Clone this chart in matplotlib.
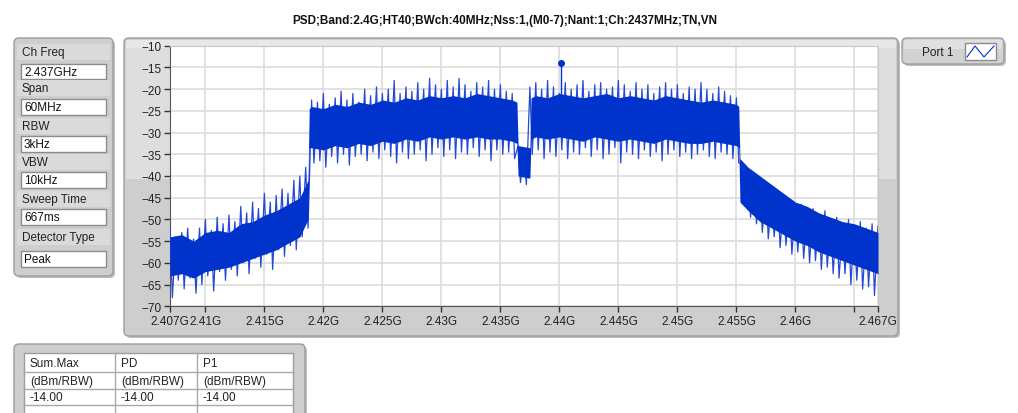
import numpy as np
import matplotlib.pyplot as plt
from matplotlib.patches import FancyBboxPatch, Rectangle

plt.rcParams['font.family'] = ['Liberation Sans', 'DejaVu Sans']

# ---- data ----
title = "PSD;Band:2.4G;HT40;BWch:40MHz;Nss:1,(M0-7);Nant:1;Ch:2437MHz;TN,VN"

setting_names = ["Ch Freq", "Span", "RBW", "VBW", "Sweep Time", "Detector Type"]
setting_values = ["2.437GHz", "60MHz", "3kHz", "10kHz", "667ms", "Peak"]

table_cols = ["Sum.Max", "PD", "P1"]
table_units = ["(dBm/RBW)", "(dBm/RBW)", "(dBm/RBW)"]
table_vals = ["-14.00", "-14.00", "-14.00"]

# dense part of the trace (MHz, dBm)
core_f = ([2407, 2408, 2409, 2410, 2411, 2412, 2413, 2414, 2415, 2416, 2417, 2418, 2418.7, 2418.8]
          + list(range(2419, 2437)) + [2436.4, 2436.5, 2437.5, 2437.6]
          + list(range(2438, 2456)) + [2455.2, 2455.3] + list(range(2456, 2468)))
core_hi = [-54, -53.5, -55, -53, -52.5, -53, -51, -50.5, -49, -48, -46.5, -45, -41, -24.5,
           -24, -24.5, -23.5, -24, -23, -23.5, -22.5, -23, -22, -22.5, -21.5, -22, -21.5, -22,
           -21, -21.5, -22, -22.5,
           -23, -33, -33.5, -22,
           -21.5, -22, -21, -21.5, -22, -21.5, -21, -22, -21.5, -22, -22.5, -21.5, -22, -22.5,
           -23, -22.5, -23, -23.5,
           -24, -36,
           -38, -40, -42, -44, -46, -47, -48.5, -49.5, -50.5, -51, -52, -53]
core_lo = [-63, -62.5, -63.5, -62, -61.5, -61, -60, -59, -58, -57, -55.5, -54, -50, -33.5,
           -33.5, -34, -33, -33.5, -32.5, -33, -32, -32.5, -31.5, -32, -31, -31.5, -31, -31.5,
           -31, -31.5, -31.5, -32,
           -32.5, -40, -40.5, -31.5,
           -31, -31.5, -31, -31.5, -32, -31, -31.5, -32, -31.5, -32, -32.5, -31.5, -32, -32.5,
           -32.5, -32, -32.5, -33,
           -33.5, -46,
           -48, -50.5, -52, -53.5, -55, -56, -57.5, -58.5, -59.5, -60.5, -61.5, -62.5]

# spike extremes every 0.5 MHz from 2407 to 2467
spike_f = np.arange(2407, 2467.01, 0.5)
spike_top = [-51.5, -54, -53, -52, -54.5, -52, -50, -52.5, -49.5, -51, -49, -50.5,
             -47, -48.5, -46, -47.5, -44, -46, -44.5, -43, -44, -41, -40, -38,
             -22.5, -23, -21, -23.5, -22, -20.5, -22.5, -21, -23, -20, -21.5, -19.5,
             -21, -20, -18, -21, -19.5, -20.5, -18.5, -20, -17.5, -19, -20, -18,
             -19.5, -17.5, -19, -20.5, -18.5, -19.5, -18, -20, -19, -20.5, -21,
             -33, -34,
             -19.5, -18.5, -20, -18, -19.5, -21, -18.5, -20, -19, -18, -20.5, -19,
             -18.5, -20, -19.5, -18, -19, -20.5, -18.5, -20, -19, -21, -19.5, -18.5,
             -20, -19, -21, -19.5, -20, -18.5, -20, -21, -19.5, -20.5, -21.5, -22,
             -37, -39, -41, -42.5, -42, -44.5, -44, -46, -45.5, -47, -46.5, -48.5,
             -47.5, -49, -48, -50, -49.5, -51, -50, -51.5, -50.5, -52, -51, -51.5]
spike_bot = [-68, -64, -66, -63.5, -67, -65, -63, -66.5, -62, -64, -61.5, -63,
             -60, -62.5, -59, -61, -58, -61.5, -57, -58.5, -56, -57, -54, -52,
             -37, -36.5, -38, -35.5, -37, -35, -37.5, -35.5, -35, -36.5, -34.5, -36,
             -34, -35.5, -37, -34.5, -36, -35, -34, -36.5, -35, -33.5, -35.5, -34,
             -36, -34.5, -35, -33.5, -35.5, -34, -36.5, -34, -35, -34.5, -36,
             -41.5, -42,
             -35, -34, -36, -34.5, -35.5, -34, -36, -34.5, -35, -33.5, -35.5, -34,
             -36, -35, -33.5, -37, -34.5, -35, -36, -34, -35.5, -34.5, -36.5, -35,
             -34, -35.5, -34.5, -36, -35, -34, -35.5, -36, -34.5, -35, -36, -37,
             -46, -49.5, -51, -53, -54.5, -54, -56.5, -56, -58, -57.5, -59, -60,
             -59.5, -61.5, -61, -62.5, -63.5, -62.5, -65, -64, -66, -65.5, -67.5, -68]

peak_f, peak_v = 2440.1, -14.0

xticks = [2407, 2410, 2415, 2420, 2425, 2430, 2435, 2440, 2445, 2450, 2455, 2460, 2465, 2467]
xlabels = ["2.407G", "2.41G", "2.415G", "2.42G", "2.425G", "2.43G", "2.435G", "2.44G",
           "2.445G", "2.45G", "2.455G", "2.46G", "", "2.467G"]
yticks = list(range(-70, -9, 5))

BLUE = '#0033CC'
W, H = 1018, 414

fig = plt.figure(figsize=(W / 100, H / 100), dpi=100)
fig.patch.set_facecolor('white')

# background axes in pixel coordinates for the panels
bg = fig.add_axes([0, 0, 1, 1])
bg.set_xlim(0, W)
bg.set_ylim(H, 0)
bg.axis('off')


def panel(x0, y0, x1, y1, fc='#D4D4D4', r=5):
    bg.add_patch(FancyBboxPatch((x0 + 2, y0 + 2), x1 - x0, y1 - y0,
                                boxstyle=f"round,pad=0,rounding_size={r}",
                                fc='#BDBDBD', ec='none'))
    bg.add_patch(FancyBboxPatch((x0, y0), x1 - x0, y1 - y0,
                                boxstyle=f"round,pad=0,rounding_size={r}",
                                fc=fc, ec='#9C9C9C', lw=1))


def box(x0, y0, x1, y1, fc='white', ec='#8C8C8C'):
    bg.add_patch(Rectangle((x0, y0), x1 - x0, y1 - y0, fc=fc, ec=ec, lw=1))


# graph frame, lighter in the top part
panel(124, 39, 898, 337, fc='#CECECE')
bg.add_patch(Rectangle((126, 41), 770, 139, fc='#DEDEDE', ec='none'))
bg.add_patch(Rectangle((126, 41), 770, 8, fc='#E8E8E8', ec='none'))

# settings panel on the left
panel(14, 39, 113, 277, fc='#CECECE')
label_y = [53, 89, 127, 163, 200, 238]
box_y = [(65, 80), (100, 116), (137, 153), (173, 189), (210, 226), (252, 268)]
for name, val, ly, (b0, b1) in zip(setting_names, setting_values, label_y, box_y):
    bg.add_patch(Rectangle((17, ly - 8), 93, 16, fc='#DADADA', ec='none'))
    bg.text(22, ly, name, fontsize=8.5, va='center', ha='left', color='#222222')
    box(21, b0, 106, b1)
    bg.text(24, (b0 + b1) / 2, val, fontsize=8.5, va='center', ha='left', color='#111111')

# legend
panel(902, 39, 1004, 65, fc='#D2D2D2')
bg.add_patch(Rectangle((904, 41), 98, 9, fc='#E0E0E0', ec='none'))
bg.text(922, 53, "Port 1", fontsize=8.5, va='center', ha='left', color='#222222')
box(965, 44, 996, 61)
bg.plot([967, 975, 984, 994], [58, 47, 58, 47], color=BLUE, lw=0.8)

# result table at the bottom
panel(14, 345, 305, 430, fc='#CECECE')
box(24, 354, 293, 430, fc='white', ec='#9C9C9C')
for yy in [373, 390, 406]:
    bg.plot([24, 293], [yy, yy], color='#A8A8A8', lw=1)
col_x = [24, 115, 197]
for xx in col_x[1:]:
    bg.plot([xx, xx], [354, 414], color='#A8A8A8', lw=1)
for cx, c, u, v in zip(col_x, table_cols, table_units, table_vals):
    bg.text(cx + 6, 364, c, fontsize=8.5, va='center', color='#222222')
    bg.text(cx + 6, 382, u, fontsize=8.5, va='center', color='#222222')
    bg.text(cx + 6, 398, v, fontsize=8.5, va='center', color='#222222')

# title
bg.text(505, 21, title, fontsize=8.5, fontweight='bold', ha='center', va='center', color='#111111')

# ---- spectrum plot ----
ax = fig.add_axes([170 / W, (H - 307.3) / H, 708 / W, 260.6 / H])
ax.set_facecolor('white')
ax.set_xlim(2407, 2467)
ax.set_ylim(-70, -10)

# trace swings between the spike tops and bottoms
zig_x = np.column_stack([spike_f, spike_f + 0.2]).ravel()
zig_y = np.column_stack([spike_top, spike_bot]).ravel()
ax.plot(zig_x, zig_y, color='#2449D4', lw=0.9, zorder=3)
ax.fill_between(core_f, core_lo, core_hi, color=BLUE, lw=0, zorder=4)
ax.plot([peak_f, peak_f], [-23, peak_v], color=BLUE, lw=1, zorder=5)
ax.plot([peak_f], [peak_v], 'o', color=BLUE, ms=4, zorder=6)

ax.set_xticks(xticks)
ax.set_xticklabels(xlabels)
ax.set_yticks(yticks)
ax.tick_params(direction='out', length=4, width=1, color='#333333', labelsize=8.5,
               labelcolor='#222222', pad=2)
ax.grid(True, color='#DCDCDC', lw=1.2)
ax.set_axisbelow(True)
for s in ['top', 'right']:
    ax.spines[s].set_color('#C8C8C8')
for s in ['left', 'bottom']:
    ax.spines[s].set_color('#555555')

fig.savefig('out.png', dpi=100)
